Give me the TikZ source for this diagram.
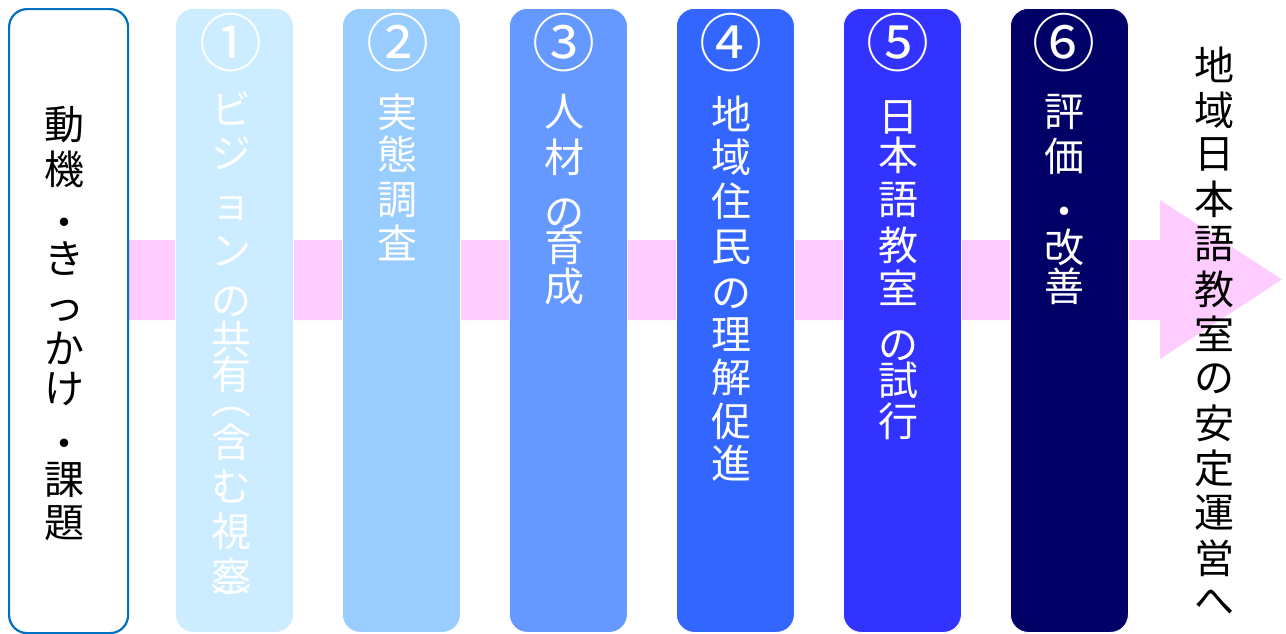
\documentclass[tikz,border=0pt]{standalone}
\usepackage{fontspec}
\newfontfamily\jp{Noto Sans CJK JP}
\definecolor{arrowpink}{HTML}{FFCCFF}
\definecolor{frameblue}{HTML}{0070C0}
\definecolor{cA}{HTML}{CCECFF}
\definecolor{cB}{HTML}{99CCFF}
\definecolor{cC}{HTML}{6699FF}
\definecolor{cD}{HTML}{3366FF}
\definecolor{cE}{HTML}{3333FF}
\definecolor{cF}{HTML}{000066}
\begin{document}
\begin{tikzpicture}[x=1pt,y=-1pt,
  stagebox/.style={rounded corners=18pt, draw=white, line width=0.8pt,
    minimum width=118pt, minimum height=624pt, anchor=north west, inner sep=0pt},
  startbox/.style={rounded corners=18pt, draw=frameblue, line width=2.2pt, fill=white,
    minimum width=119pt, minimum height=624pt, anchor=north west, inner sep=0pt},
  jch/.style={font=\jp\fontsize{40}{44}\selectfont, inner sep=0pt, anchor=center},
  wch/.style={jch, text=white},
  kch/.style={jch, text=black},
  numch/.style={font=\jp\fontsize{63}{66}\selectfont, inner sep=0pt, anchor=center, text=white}]
\useasboundingbox (0,0) rectangle (1286,633);
% big arrow (background)
\fill[arrowpink] (120,240) -- (1160,240) -- (1160,200) -- (1282,279.5)
  -- (1160,359) -- (1160,320) -- (120,320) -- cycle;
% boxes
\node[startbox] (s0) at (8,8) {};
\node[stagebox, fill=cA] (s1) at (175,8) {};
\node[stagebox, fill=cB] (s2) at (342,8) {};
\node[stagebox, fill=cC] (s3) at (509,8) {};
\node[stagebox, fill=cD] (s4) at (676,8) {};
\node[stagebox, fill=cE] (s5) at (843,8) {};
\node[stagebox, fill=cF] (s6) at (1010,8) {};
% circled numbers
\node[numch] (n1) at (231,43) {①};
\node[numch] (n2) at (398,43) {②};
\node[numch] (n3) at (564,43) {③};
\node[numch] (n4) at (731,43) {④};
\node[numch] (n5) at (898,43) {⑤};
\node[numch] (n6) at (1064,43) {⑥};
% box 0 text
\foreach \c/\y [count=\i] in {動/125,機/169,・/228,き/258,っ/311,か/348,け/389,・/449,課/480,題/523}
  \node[kch] (t0-\i) at (64,\y) {\c};
% box 1 text
\foreach \c/\y [count=\i] in {ビ/108,ジ/153,ョ/209,ン/251,の/302,共/339,有/374,︵/412,含/442,む/486,視/531,察/576,︶/601}
  \node[wch] (t1-\i) at (231,\y) {\c};
% box 2 text
\foreach \c/\y [count=\i] in {実/112,態/154,調/200,査/243}
  \node[wch] (t2-\i) at (397,\y) {\c};
% box 3 text
\foreach \c/\y [count=\i] in {人/112,材/157,の/214,育/246,成/286}
  \node[wch] (t3-\i) at (564,\y) {\c};
% box 4 text
\foreach \c/\y [count=\i] in {地/114,域/157,住/201,民/247,の/294,理/335,解/377,促/421,進/463}
  \node[wch] (t4-\i) at (731,\y) {\c};
% box 5 text
\foreach \c/\y [count=\i] in {日/117,本/155,語/200,教/245,室/288,の/346,試/380,行/421}
  \node[wch] (t5-\i) at (898,\y) {\c};
% box 6 text
\foreach \c/\y [count=\i] in {評/112,価/156,・/217,改/247,善/286}
  \node[wch] (t6-\i) at (1064,\y) {\c};
% result text
\foreach \c [count=\i] in {地,域,日,本,語,教,室,の,安,定,運,営,へ}
  \node[kch] (r-\i) at (1214,{65+44.8*(\i-1)}) {\c};
\end{tikzpicture}
\end{document}
